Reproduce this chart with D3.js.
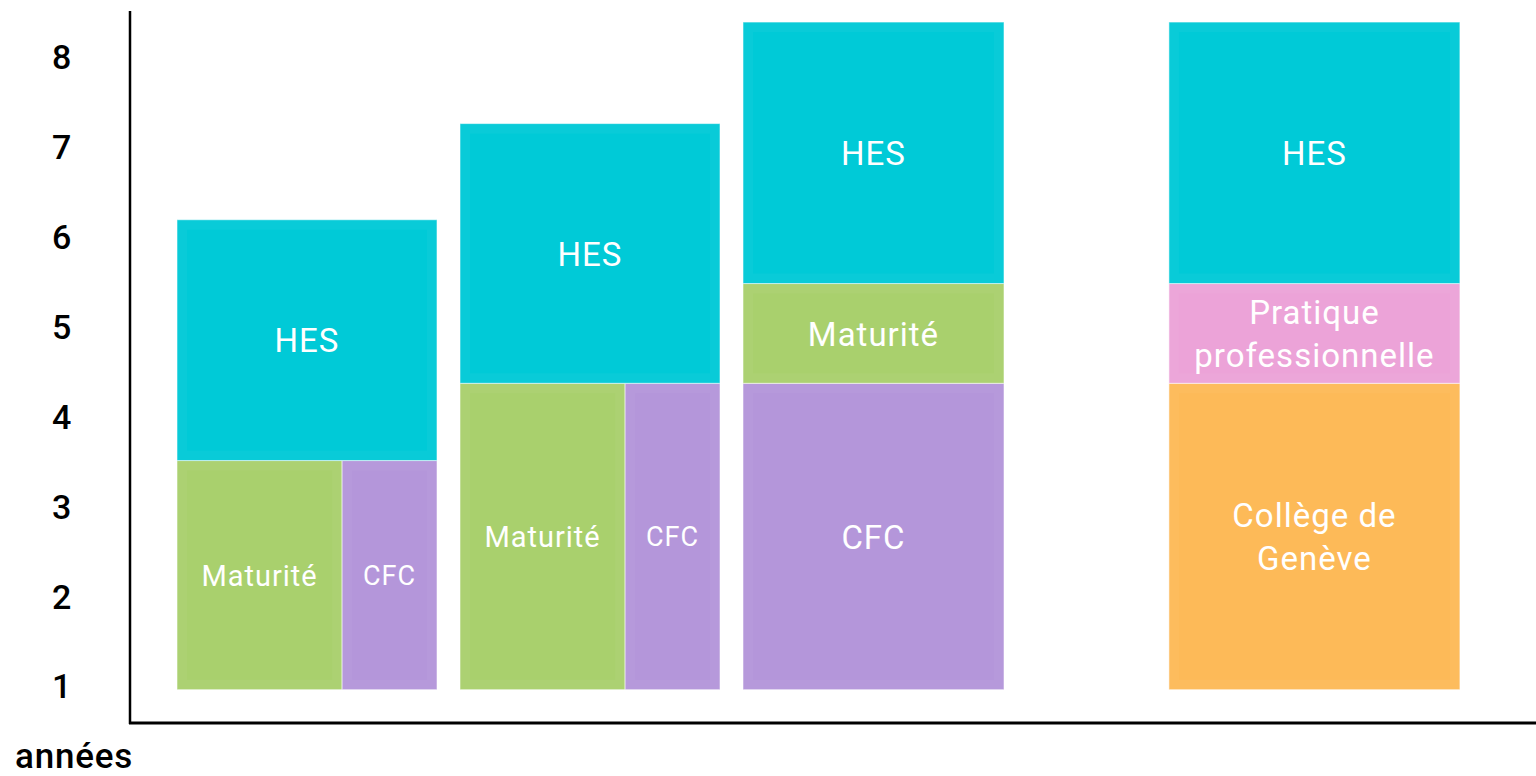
<!DOCTYPE html>
<html>
<head>
<meta charset="utf-8">
<script src="https://cdn.jsdelivr.net/npm/d3@7"></script>
<style>
  html, body { margin: 0; padding: 0; background: #ffffff; }
  svg { display: block; }
</style>
</head>
<body>
<svg id="chart" width="1536" height="776"></svg>
<script>
// ---------- data ----------
const pathways = ["Maturité / CFC 3 ans", "Maturité / CFC 4 ans", "CFC + Maturité", "Collège de Genève"];
const yearTicks = [1, 2, 3, 4, 5, 6, 7, 8];
const axisTitle = "années";

// segments (one entry per coloured block)
const segPathway = [0, 0, 0, 1, 1, 1, 2, 2, 2, 3, 3, 3];
const segName = ["Maturité", "CFC", "HES",
                 "Maturité", "CFC", "HES",
                 "CFC", "Maturité", "HES",
                 "Collège de\nGenève", "Pratique\nprofessionnelle", "HES"];
const segStart = [0.97, 0.97, 3.52,  0.97, 0.97, 4.38,  0.97, 4.38, 5.49,  0.97, 4.38, 5.49];
const segEnd   = [3.52, 3.52, 6.20,  4.38, 4.38, 7.27,  4.38, 5.49, 8.40,  4.38, 5.49, 8.40];
// share of the bar width taken by parallel tracks
const segShareFrom = [0, 0.635, 0,  0, 0.635, 0,  0, 0, 0,  0, 0, 0];
const segShareTo   = [0.635, 1, 1,  0.635, 1, 1,  1, 1, 1,  1, 1, 1];

// ---------- layout / style ----------
const slotOf = [0, 1, 2, 3.505];
const barWidthOf = [260, 260, 261, 291];
const colors = {
  "HES": "#00CAD7",
  "Maturité": "#A9D06D",
  "CFC": "#B496DA",
  "Pratique\nprofessionnelle": "#ECA3D8",
  "Collège de\nGenève": "#FDBA58"
};
const fontFamily = "Roboto, 'Noto Sans', sans-serif";

const svg = d3.select("#chart");

const x = d3.scaleLinear().domain([0, 1]).range([177, 460]);
const y = d3.scaleLinear().domain([1, 8]).range([687, 58]);

const segs = segName.map((n, i) => ({
  name: n, p: segPathway[i], s: segStart[i], e: segEnd[i],
  f0: segShareFrom[i], f1: segShareTo[i]
}));
const sx = d => x(slotOf[d.p]) + d.f0 * barWidthOf[d.p];
const sw = d => (d.f1 - d.f0) * barWidthOf[d.p];

// blocks
const g = svg.append("g");
const blk = g.selectAll("g.blk").data(segs).join("g").attr("class", "blk");

blk.append("rect")
  .attr("x", sx)
  .attr("y", d => y(d.e))
  .attr("width", sw)
  .attr("height", d => y(d.s) - y(d.e))
  .attr("fill", d => colors[d.name])
  .attr("stroke", "rgba(255,255,255,0.55)")
  .attr("stroke-width", 1);

// subtle bevel
blk.append("rect")
  .attr("x", d => sx(d) + 5)
  .attr("y", d => y(d.e) + 5)
  .attr("width", d => sw(d) - 10)
  .attr("height", d => y(d.s) - y(d.e) - 10)
  .attr("fill", "none")
  .attr("stroke", "rgba(255,255,255,0.035)")
  .attr("stroke-width", 10);

// labels
blk.each(function(d) {
  const w = sw(d);
  const cx = sx(d) + w / 2;
  const cy = (y(d.s) + y(d.e)) / 2;
  const lines = d.name.split("\n");
  const fs = w < 200 ? (d.name === "CFC" ? 27 : 29) : 33;
  const lh = 43;
  const t = d3.select(this).append("text")
    .attr("text-anchor", "middle")
    .attr("fill", "#ffffff")
    .attr("font-family", fontFamily)
    .attr("font-weight", 400)
    .attr("font-size", fs)
    .attr("letter-spacing", "1px");
  lines.forEach((ln, k) => {
    t.append("tspan")
      .attr("x", cx)
      .attr("y", cy + (k - (lines.length - 1) / 2) * lh)
      .attr("dy", "0.37em")
      .text(ln);
  });
});

// y axis labels
const yAxis = d3.axisLeft(y).tickValues(yearTicks).tickSize(0).tickFormat(d3.format("d"));
const ya = svg.append("g").attr("transform", "translate(52,0)").call(yAxis);
ya.select(".domain").remove();
ya.selectAll("text")
  .attr("x", 0)
  .attr("text-anchor", "start")
  .attr("font-family", fontFamily)
  .attr("font-weight", 500)
  .attr("font-size", 34)
  .attr("fill", "#000");

// axis lines
svg.append("line").attr("x1", 130).attr("x2", 130).attr("y1", 11).attr("y2", 724)
  .attr("stroke", "#000").attr("stroke-width", 2.5);
svg.append("line").attr("x1", 129).attr("x2", 1536).attr("y1", 723).attr("y2", 723)
  .attr("stroke", "#000").attr("stroke-width", 3);

// axis title
svg.append("text")
  .attr("x", 15).attr("y", 768)
  .attr("font-family", fontFamily)
  .attr("font-weight", 500)
  .attr("font-size", 35)
  .attr("letter-spacing", "0.8px")
  .attr("fill", "#000")
  .text(axisTitle);
</script>
</body>
</html>
